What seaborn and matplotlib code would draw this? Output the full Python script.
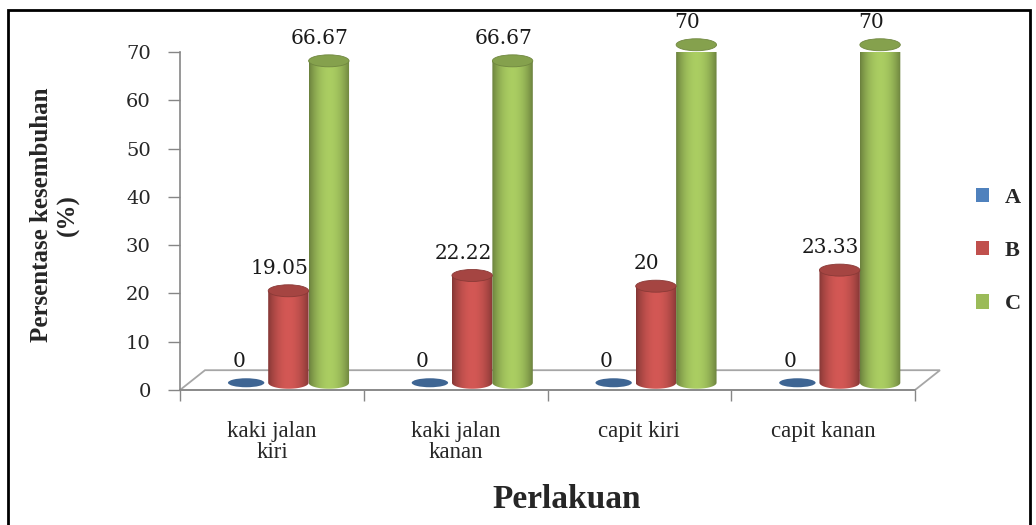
import matplotlib
matplotlib.use('Agg')
import matplotlib.pyplot as plt
import numpy as np
import pandas as pd
import seaborn as sns
from matplotlib.colors import to_rgb
from matplotlib.patches import Ellipse, PathPatch, Polygon, Rectangle
from matplotlib.path import Path

# Data
categories = ['kaki jalan\nkiri', 'kaki jalan\nkanan', 'capit kiri', 'capit kanan']
series = ['A', 'B', 'C']
values_a = [0, 0, 0, 0]
values_b = [19.05, 22.22, 20, 23.33]
values_c = [66.67, 66.67, 70, 70]
colors = ['#4F81BD', '#C0504D', '#9BBB59']

df = pd.DataFrame({
    'perlakuan': categories * 3,
    'seri': [s for s in series for _ in categories],
    'nilai': values_a + values_b + values_c,
})

sns.set_style('white')
plt.rcParams['font.family'] = ['Liberation Serif', 'DejaVu Serif']

W, H = 1036, 525
fig = plt.figure(figsize=(W / 100, H / 100), dpi=100)
ax = fig.add_axes([180 / W, 1 - 390 / H, (915 - 180) / W, (390 - 52) / H])

sns.barplot(data=df, x='perlakuan', y='nilai', hue='seri', order=categories,
            hue_order=series, palette=colors, saturation=1, width=0.66,
            legend=False, ax=ax)

ymax = 70
px_y = ymax / (390 - 52)          # data units per pixel (vertical)
depth_x, depth_y = 0.136, 4.1     # 3D floor offset
shift_x, base = 0.09, 1.5         # bars stand mid-depth on the floor
cap_h = 12 * px_y
disk_h = 9 * px_y


def shade(c, f):
    return tuple(np.clip(np.array(to_rgb(c)) * f, 0, 1))


t = np.linspace(0, 1, 80)
fac = 0.68 + 0.42 * np.sin(np.pi * t) ** 0.8

for cont, col in zip(ax.containers, colors):
    for bar in cont:
        x0 = bar.get_x() + shift_x
        w = bar.get_width()
        h = bar.get_height()
        bar.set_visible(False)
        cx = x0 + w / 2
        if h <= 0:
            ax.add_patch(Ellipse((cx - 0.01, base), w * 0.9, disk_h, clip_on=False,
                                 facecolor=shade(col, 0.78), edgecolor='none', zorder=3))
            top = base + disk_h / 2
        else:
            y1 = base + h
            ang = np.linspace(np.pi, 2 * np.pi, 40)
            pts = [(x0, y1)] + [(cx + w / 2 * np.cos(a), base + cap_h / 2 * np.sin(a)) for a in ang] + [(x0 + w, y1), (x0, y1)]
            clip = PathPatch(Path(pts), transform=ax.transData, facecolor='none', edgecolor='none')
            grad = np.array([[shade(col, f) for f in fac]])
            im = ax.imshow(grad, extent=[x0, x0 + w, base - cap_h / 2, y1], aspect='auto',
                           interpolation='bilinear', zorder=3)
            im.set_clip_path(clip)
            im.set_clip_box(None)
            ax.add_patch(Ellipse((cx, y1), w, cap_h, facecolor=shade(col, 0.86), clip_on=False,
                                 edgecolor=shade(col, 0.72), lw=0.6, zorder=4))
            top = y1 + cap_h / 2
        ax.annotate(f'{h:g}', (cx - 0.05, top), xytext=(0, 5), textcoords='offset points',
                    ha='center', va='bottom', fontsize=14.5, family='DejaVu Serif',
                    color='#1a1a1a', zorder=5, annotation_clip=False)

# floor of the 3D plot
floor = Polygon([(-0.5, 0), (3.5, 0), (3.5 + depth_x, depth_y), (-0.5 + depth_x, depth_y)],
                closed=True, facecolor='white', edgecolor='#A6A6A6', lw=1.3,
                clip_on=False, zorder=1)
ax.add_patch(floor)

ax.set_xlim(-0.5, 3.5)
ax.set_ylim(0, ymax)
ax.set_yticks(range(0, 71, 10))
ax.tick_params(axis='y', length=9, width=1, color='#868686', pad=12, labelsize=14,
               direction='out', left=True)
for lab in ax.get_yticklabels():
    lab.set_family('DejaVu Serif')
ax.set_xticks(range(len(categories)))
ax.set_xticklabels(categories, fontsize=16.5, linespacing=1.05)
ax.tick_params(axis='x', length=0, pad=22)
ax.set_xticks(np.arange(-0.5, 4, 1), minor=True)
ax.tick_params(axis='x', which='minor', length=8, width=1, color='#868686', bottom=True)
ax.set_xlabel('')
ax.set_ylabel('')
for s in ['top', 'right']:
    ax.spines[s].set_visible(False)
for s in ['left', 'bottom']:
    ax.spines[s].set_color('#868686')
    ax.spines[s].set_linewidth(1.2)
ax.patch.set_alpha(0)

fig.text(55 / W, 1 - 215 / H, 'Persentase kesembuhan\n(%)', rotation=90, ha='center',
         va='center', fontsize=18, fontweight='bold', linespacing=1.15)
fig.text(567 / W, 1 - 500 / H, 'Perlakuan', ha='center', va='center', fontsize=24,
         fontweight='bold')

handles = [Rectangle((0, 0), 1, 1, facecolor=c, edgecolor='none') for c in colors]
fig.legend(handles, series, loc='center left', bbox_to_anchor=(956 / W, 1 - 251 / H),
           frameon=False, handlelength=0.6, handleheight=0.6, handletextpad=0.7,
           labelspacing=1.5, prop={'family': 'Liberation Serif', 'weight': 'bold', 'size': 16})

fig.patches.append(Rectangle((8 / W, -0.05), (1030 - 8) / W, 1.05 - 10 / H,
                             transform=fig.transFigure, fill=False, edgecolor='black', lw=2))

fig.savefig('out.png', dpi=100)
